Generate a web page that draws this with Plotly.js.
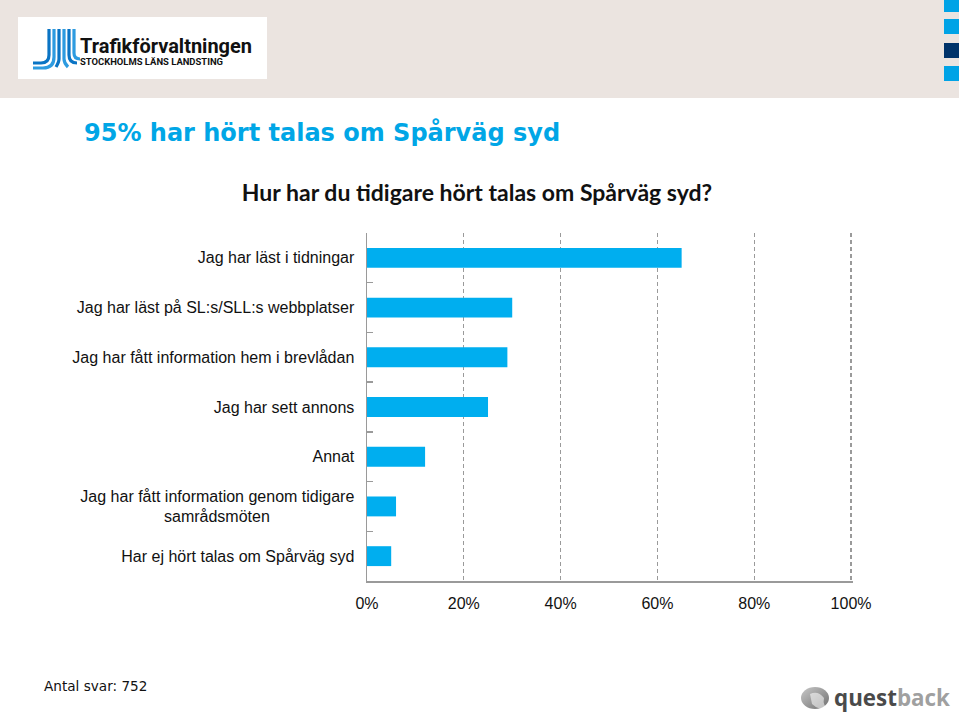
<!DOCTYPE html>
<html>
<head>
<meta charset="utf-8">
<script src="https://cdn.plot.ly/plotly-3.0.1.min.js"></script>
<style>
  html, body { margin:0; padding:0; background:#ffffff; }
  #page { position:relative; width:959px; height:716px; overflow:hidden; background:#fff; }
  #header { position:absolute; left:0; top:0; width:959px; height:98px; background:#ebe4e0; }
  #logo { position:absolute; left:18px; top:17px; width:249px; height:62px; background:#fff; }
  .sq { position:absolute; left:944px; width:15px; }
  #heading { position:absolute; left:84px; top:119px; font-family:"DejaVu Sans", Verdana, sans-serif; font-weight:bold; font-size:24px; color:#00a6e6; white-space:nowrap; }
  #antal { position:absolute; left:44px; top:678px; font-family:"DejaVu Sans", Verdana, sans-serif; font-size:13.6px; color:#111; }
  #qb { position:absolute; left:798px; top:674px; width:161px; height:42px; }
  #chart { position:absolute; left:0; top:0; width:959px; height:716px; }
</style>
</head>
<body>
<div id="page">
  <div id="header"></div>
  <div id="logo">
    <svg width="249" height="62" viewBox="0 0 249 62">
      <g fill="none" stroke-width="3.2">
        <path d="M31 12 V38 Q31 46 23 46 H15" stroke="#0a74c4"/>
        <path d="M36 12 V40 Q36 51 25 51 H15" stroke="#2d9be0"/>
        <path d="M41 12 V42 Q41 45 38 50" stroke="#0a74c4"/>
        <path d="M46 12 V42 Q46 46 50 50" stroke="#2d9be0"/>
        <path d="M51 12 V38 Q51 46 59 46 H58" stroke="#0a74c4"/>
        <path d="M56 12 V36 Q56 42 62 42" stroke="#2d9be0"/>
      </g>
      <text x="62" y="36" font-family="'Liberation Sans Narrow','Roboto','Liberation Sans',sans-serif" font-weight="bold" font-size="20" fill="#111" textLength="172" lengthAdjust="spacingAndGlyphs">Trafikförvaltningen</text>
      <text x="62" y="48" font-family="'Liberation Sans Narrow','Roboto','Liberation Sans',sans-serif" font-weight="bold" font-size="9" fill="#111" textLength="143" lengthAdjust="spacingAndGlyphs">STOCKHOLMS LÄNS LANDSTING</text>
    </svg>
  </div>
  <div class="sq" style="top:0px;height:12px;background:#00a3e6;"></div>
  <div class="sq" style="top:19px;height:15px;background:#00a3e6;"></div>
  <div class="sq" style="top:43px;height:15px;background:#00336a;"></div>
  <div class="sq" style="top:66px;height:15px;background:#00a3e6;"></div>
  <div id="heading">95% har hört talas om Spårväg syd</div>
  <div id="antal">Antal svar: 752</div>
  <div id="qb">
    <svg width="161" height="42" viewBox="0 0 161 42">
      <defs>
        <linearGradient id="g1" x1="0" y1="0" x2="1" y2="1">
          <stop offset="0" stop-color="#c8c8c8"/>
          <stop offset="1" stop-color="#6f6f6f"/>
        </linearGradient>
      </defs>
      <ellipse cx="17" cy="24" rx="14" ry="11" fill="url(#g1)"/>
      <path d="M12 20 Q20 16 26 24 Q24 32 32 36 Q20 36 14 30 Z" fill="#ffffff" opacity="0.55"/>
      <text x="36" y="32" font-family="'Open Sans','Liberation Sans',sans-serif" font-weight="bold" font-size="23" fill="#555" textLength="116" lengthAdjust="spacingAndGlyphs"><tspan fill="#4a4a4a">quest</tspan><tspan fill="#a0a0a0">back</tspan></text>
    </svg>
  </div>
  <div id="chart"></div>
</div>
<script>
const categories = [
  "Jag har läst i tidningar",
  "Jag har läst på SL:s/SLL:s webbplatser",
  "Jag har fått information hem i brevlådan",
  "Jag har sett annons",
  "Annat",
  "Jag har fått information genom tidigare<br>samrådsmöten\u00a0\u00a0\u00a0\u00a0\u00a0\u00a0\u00a0\u00a0\u00a0\u00a0\u00a0\u00a0\u00a0\u00a0\u00a0\u00a0\u00a0\u00a0\u00a0",
  "Har ej hört talas om Spårväg syd"
];
const values = [65, 30, 29, 25, 12, 6, 5];
const tickVals = [0, 20, 40, 60, 80, 100];
const tickText = ["0%", "20%", "40%", "60%", "80%", "100%"];
const chartTitle = "Hur har du tidigare hört talas om Spårväg syd?";

const W = 959, H = 716;
const xMax = 100.4;
const pxPerUnit = (851 - 366.5) / 100;
const plotL = 366.5, plotR = plotL + pxPerUnit * xMax, plotT = 233, plotB = 581;

const data = [{
  type: 'bar',
  orientation: 'h',
  x: values,
  y: categories,
  marker: { color: '#00aeef', line: { width: 0 } },
  hoverinfo: 'none'
}];

const layout = {
  width: W, height: H,
  paper_bgcolor: 'rgba(0,0,0,0)',
  plot_bgcolor: 'rgba(0,0,0,0)',
  showlegend: false,
  bargap: 0.6,
  margin: { l: plotL, r: W - plotR, t: plotT, b: H - plotB, pad: 0 },
  title: {
    text: '<b>' + chartTitle + '</b>',
    font: { family: 'Lato, "Open Sans", sans-serif', size: 23, color: '#111' },
    xref: 'container', x: 477 / W, xanchor: 'center',
    yref: 'container', y: 1 - 193 / H, yanchor: 'middle'
  },
  xaxis: {
    range: [0, xMax],
    tickvals: tickVals,
    ticktext: tickText,
    showgrid: true,
    gridcolor: '#9a9a9a',
    griddash: '4px,3px',
    gridwidth: 1.2,
    showline: true,
    linecolor: '#9a9a9a',
    linewidth: 1.5,
    zeroline: false,
    ticks: '',
    ticklabelstandoff: 7,
    tickfont: { family: '"Liberation Sans", Arial, sans-serif', size: 16, color: '#111' },
    fixedrange: true
  },
  yaxis: {
    type: 'category',
    categoryorder: 'array',
    categoryarray: categories,
    autorange: 'reversed',
    showgrid: false,
    showline: true,
    linecolor: '#9a9a9a',
    linewidth: 1.5,
    zeroline: false,
    ticks: 'inside',
    tickson: 'boundaries',
    ticklen: 6,
    tickcolor: '#9a9a9a',
    tickwidth: 1.5,
    ticklabelstandoff: 8,
    tickfont: { family: '"Liberation Sans", Arial, sans-serif', size: 16, color: '#111' },
    fixedrange: true
  }
};

Plotly.newPlot('chart', data, layout, { displayModeBar: false, staticPlot: true });
</script>
</body>
</html>
